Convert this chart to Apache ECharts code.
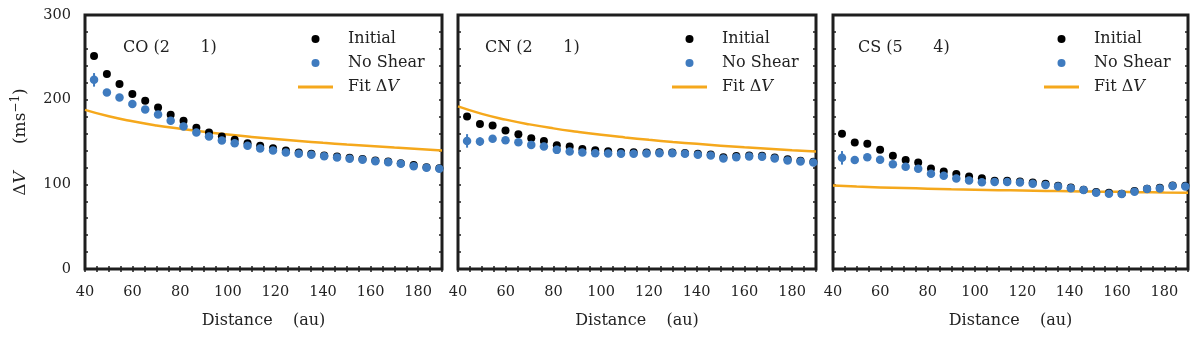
<!DOCTYPE html>
<html>
<head>
<meta charset="utf-8">
<script src="https://cdn.jsdelivr.net/npm/echarts@6/dist/echarts.min.js"></script>
<style>
  html, body { margin: 0; padding: 0; background: #fff; }
  #chart { width: 1200px; height: 339px; }
</style>
</head>
<body>
<div id="chart"></div>
<script>
// distances of the sampled points (au)
var dist = [43.8, 49.2, 54.5, 59.9, 65.3, 70.7, 76.0, 81.4, 86.8, 92.1, 97.5, 102.9, 108.3, 113.6,
            119.0, 124.4, 129.8, 135.1, 140.5, 145.9, 151.2, 156.6, 162.0, 167.4, 172.7, 178.1, 183.5, 188.9];

// CO (2-1)
var coInit = [251.7, 230.4, 218.6, 206.8, 198.6, 190.7, 182.1, 175.0, 166.7, 161.2, 156.5, 152.6, 148.6, 145.5,
              142.7, 140.0, 137.6, 136.0, 134.0, 132.9, 131.3, 129.8, 128.2, 127.0, 125.0, 122.7, 120.3, 119.1];
var coNoShear = [223.4, 208.4, 202.5, 195.0, 188.4, 182.5, 175.0, 168.3, 161.2, 156.5, 151.8, 148.6, 145.5, 142.4,
                 140.0, 137.6, 136.0, 134.9, 133.3, 131.7, 130.2, 129.0, 127.4, 126.2, 124.3, 121.5, 119.5, 118.4];
var coErr = [8, 3, 3, 3, 2, 2, 2, 2, 2, 2, 2, 2, 2, 2, 2, 2, 2, 2, 2, 2, 2, 2, 2, 2, 2, 2, 2, 2];

// CN (2-1)
var cnInit = [180.0, 171.4, 169.4, 163.5, 159.2, 154.5, 151.3, 146.3, 144.7, 141.6, 140.4, 139.2, 138.2, 137.8,
              137.6, 137.8, 137.6, 137.0, 136.0, 135.2, 132.0, 133.5, 134.0, 133.8, 131.8, 129.5, 128.0, 126.8];
var cnNoShear = [151.3, 150.5, 153.7, 152.2, 149.8, 146.6, 144.7, 140.7, 138.7, 137.6, 136.8, 136.4, 136.0, 136.0,
                 136.4, 136.8, 136.8, 136.0, 134.8, 134.0, 130.5, 132.1, 132.9, 132.5, 130.5, 128.1, 126.9, 125.8];
var cnErr = [8, 5, 3, 3, 3, 2, 2, 2, 2, 2, 2, 2, 2, 2, 2, 2, 2, 2, 2, 2, 2, 2, 2, 2, 2, 2, 2, 2];

// CS (5-4)
var csInit = [159.6, 149.4, 147.8, 140.7, 133.7, 128.6, 125.8, 118.7, 115.1, 112.1, 109.2, 107.3, 104.2, 104.2,
              103.3, 102.2, 100.6, 98.3, 96.3, 93.5, 90.8, 90.0, 88.8, 92.0, 94.7, 95.9, 98.6, 98.3];
var csNoShear = [131.3, 128.6, 132.1, 129.0, 123.8, 120.7, 118.3, 112.4, 110.1, 106.9, 104.5, 102.6, 102.7, 102.7,
                 102.2, 100.6, 99.1, 97.4, 95.5, 93.2, 90.0, 88.8, 88.5, 91.2, 94.4, 95.1, 97.9, 97.4];
var csErr = [8, 4, 3, 3, 2, 2, 2, 2, 2, 2, 2, 2, 2, 2, 2, 2, 2, 2, 2, 2, 2, 2, 2, 2, 2, 2, 2, 2];

// fitted curves
var fitDist = [40, 50, 60, 70, 80, 90, 100, 110, 120, 130, 140, 150, 160, 170, 180, 190];
var coFit = [188.0, 180.4, 174.5, 169.6, 165.6, 162.0, 158.8, 156.0, 153.5, 151.2, 149.0, 147.0, 145.2, 143.4, 141.7, 140.0];
var cnFit = [192.0, 183.2, 176.4, 170.8, 166.1, 162.1, 158.5, 155.4, 152.6, 150.1, 147.8, 145.7, 143.7, 141.9, 140.2, 138.7];
var csFit = [98.6, 97.4, 96.4, 95.6, 94.9, 94.2, 93.7, 93.1, 92.7, 92.2, 91.8, 91.4, 91.1, 90.7, 90.4, 90.2];

var panelLabels = ['CO (2      1)', 'CN (2      1)', 'CS (5      4)'];

var FONT = 'DejaVu Serif';
var INK = '#1e1e1e';
var BLUE = '#3f7bbf';
var GOLD = '#f5a81c';

var panels = [
    {init: coInit, ns: coNoShear, err: coErr, fit: coFit, left: 85, right: 758, legendLeft: 298, labelLeft: 123},
    {init: cnInit, ns: cnNoShear, err: cnErr, fit: cnFit, left: 458, right: 384, legendLeft: 672, labelLeft: 485},
    {init: csInit, ns: csNoShear, err: csErr, fit: csFit, left: 833, right: 12, legendLeft: 1044, labelLeft: 858}
];

function zip(xs, ys) {
    return xs.map(function (x, i) { return [x, ys[i]]; });
}

var grid = [], xAxis = [], yAxis = [], series = [], legend = [], title = [];

panels.forEach(function (p, k) {
    grid.push({
        left: p.left, right: p.right, top: 15, bottom: 70,
        show: true, borderColor: INK, borderWidth: 3, backgroundColor: 'transparent'
    });
    var tickStyle = {show: true, inside: true, length: 3, lineStyle: {color: INK, width: 1.5}};
    // bottom axis
    xAxis.push({
        gridIndex: k, type: 'value', min: 40, max: 190, interval: 20,
        axisLine: {show: false}, splitLine: {show: false},
        axisTick: tickStyle,
        minorTick: {show: true, splitNumber: 4, length: 3, lineStyle: {color: INK, width: 1.5}},
        axisLabel: {show: true, margin: 16, fontFamily: FONT, fontSize: 14.5, color: '#222', showMaxLabel: false},
        name: 'Distance    (au)', nameLocation: 'middle', nameGap: 44,
        nameTextStyle: {fontFamily: FONT, fontSize: 16, color: '#222'}
    });
    // mirrored top axis
    xAxis.push({
        gridIndex: k, type: 'value', position: 'top', min: 40, max: 190, interval: 20,
        axisLine: {show: false}, splitLine: {show: false}, axisLabel: {show: false},
        axisTick: tickStyle,
        minorTick: {show: true, splitNumber: 4, length: 3, lineStyle: {color: INK, width: 1.5}}
    });
    yAxis.push({
        gridIndex: k, type: 'value', min: 0, max: 300, interval: 100,
        axisLine: {show: false}, splitLine: {show: false},
        axisTick: tickStyle,
        minorTick: {show: true, splitNumber: 5, length: 3, lineStyle: {color: INK, width: 1.5}},
        axisLabel: {show: k === 0, margin: 14, fontFamily: FONT, fontSize: 14.5, color: '#222'},
        name: k === 0 ? 'Δ{it|V}     (ms{sup|−1})' : '',
        nameLocation: 'middle', nameGap: 54, nameRotate: 90,
        nameTextStyle: {
            fontFamily: FONT, fontSize: 17, color: '#222',
            rich: {
                it: {fontFamily: FONT, fontSize: 17, fontStyle: 'italic', color: '#222'},
                sup: {fontFamily: FONT, fontSize: 12, color: '#222', verticalAlign: 'top', padding: [0, 0, 9, 0]}
            }
        }
    });
    yAxis.push({
        gridIndex: k, type: 'value', position: 'right', min: 0, max: 300, interval: 100,
        axisLine: {show: false}, splitLine: {show: false}, axisLabel: {show: false},
        axisTick: tickStyle,
        minorTick: {show: true, splitNumber: 5, length: 3, lineStyle: {color: INK, width: 1.5}}
    });

    var xi = k * 2, yi = k * 2;
    series.push({
        name: 'Fit ΔV', type: 'line', xAxisIndex: xi, yAxisIndex: yi,
        data: zip(fitDist, p.fit), smooth: true, showSymbol: false, symbol: 'none',
        lineStyle: {color: GOLD, width: 2.5}, itemStyle: {color: GOLD}, z: 2
    });
    series.push({
        name: 'Initial', type: 'scatter', xAxisIndex: xi, yAxisIndex: yi,
        data: zip(dist, p.init), symbolSize: 8, itemStyle: {color: '#000', opacity: 1}, z: 3
    });
    series.push({
        name: 'errbar', type: 'custom', xAxisIndex: xi, yAxisIndex: yi,
        data: dist.map(function (d, i) { return [d, p.ns[i], p.err[i]]; }),
        renderItem: function (params, api) {
            var top = api.coord([api.value(0), api.value(1) + api.value(2)]);
            var bot = api.coord([api.value(0), api.value(1) - api.value(2)]);
            return {
                type: 'line',
                shape: {x1: top[0], y1: top[1], x2: bot[0], y2: bot[1]},
                style: {stroke: BLUE, lineWidth: 2}
            };
        },
        z: 4, silent: true
    });
    series.push({
        name: 'No Shear', type: 'scatter', xAxisIndex: xi, yAxisIndex: yi,
        data: zip(dist, p.ns), symbolSize: 8.5, itemStyle: {color: BLUE, opacity: 1}, z: 5
    });

    legend.push({
        left: p.legendLeft, top: 31, orient: 'vertical', padding: 0,
        itemWidth: 35, itemHeight: 8, itemGap: 8, selectedMode: false,
        data: [
            {name: 'Initial', icon: 'circle', itemStyle: {color: '#000', opacity: 1}},
            {name: 'No Shear', icon: 'circle', itemStyle: {color: BLUE, opacity: 1}},
            {name: 'Fit ΔV', icon: 'path://M0,0h35v3H0z', itemStyle: {color: GOLD}}
        ],
        formatter: function (name) {
            return name === 'Fit ΔV' ? 'Fit Δ{it|V}' : name;
        },
        textStyle: {
            fontFamily: FONT, fontSize: 16, color: '#222', padding: [0, 0, 0, 10],
            rich: {it: {fontFamily: FONT, fontSize: 16, fontStyle: 'italic', color: '#222'}}
        }
    });

    title.push({
        text: panelLabels[k], left: p.labelLeft, top: 40, padding: 0,
        textStyle: {fontFamily: FONT, fontSize: 16, fontWeight: 'normal', color: '#222'}
    });
});

var chart = echarts.init(document.getElementById('chart'), null, {renderer: 'canvas'});
chart.setOption({
    animation: false,
    backgroundColor: '#fff',
    title: title,
    legend: legend,
    grid: grid,
    xAxis: xAxis,
    yAxis: yAxis,
    series: series
});
</script>
</body>
</html>
